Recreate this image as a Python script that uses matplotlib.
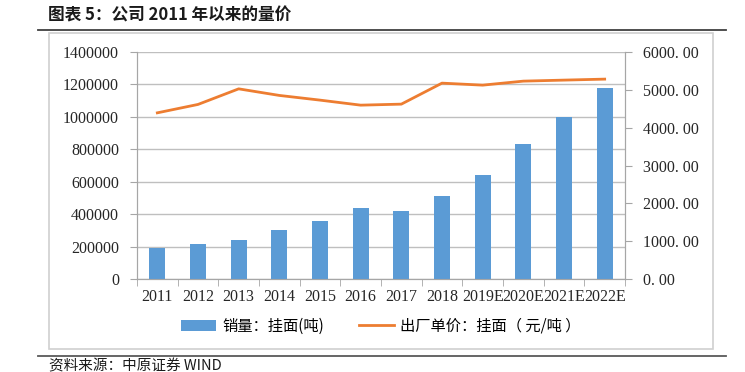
import matplotlib.pyplot as plt
import numpy as np
from matplotlib.patches import Rectangle
from matplotlib.lines import Line2D

plt.rcParams['font.family'] = ['Noto Sans CJK SC', 'DejaVu Sans']

years = ['2011', '2012', '2013', '2014', '2015', '2016', '2017', '2018',
         '2019E', '2020E', '2021E', '2022E']
volume = [191000, 218000, 243000, 304000, 360000, 436000, 419000, 514000,
          639000, 830000, 998000, 1175000]
price = [4392, 4614, 5026, 4852, 4728, 4595, 4622, 5177, 5124, 5230, 5257, 5283]

blue = '#5B9BD5'
orange = '#ED7D31'
grid_c = '#BFBFBF'
axis_c = '#A6A6A6'

fig = plt.figure(figsize=(7.45, 3.72), dpi=100)
W, H = 745, 372

def fx(px):
    return px / W

def fy(py):
    return 1 - py / H

ax = fig.add_axes([fx(137), fy(279), fx(625) - fx(137), fy(52) - fy(279)])
ax2 = ax.twinx()

x = np.arange(len(years))
ax.bar(x, volume, width=0.39, color=blue, zorder=3, label='销量：挂面(吨)')
ax2.plot(x, price, color=orange, lw=2.0, zorder=4, label='出厂单价：挂面（ 元/吨 ）')

ax.set_xlim(-0.5, len(years) - 0.5)
ax.set_ylim(0, 1400000)
ax2.set_ylim(0, 6000)
ax.set_yticks(np.arange(0, 1400001, 200000))
ax2.set_yticks(np.arange(0, 6001, 1000))
ax.set_yticklabels([str(v) for v in range(0, 1400001, 200000)])
ax2.set_yticklabels([('%.2f' % v).replace('.', '. ') for v in range(0, 6001, 1000)])

ax.set_xticks(x)
ax.set_xticklabels(years)
ax.set_xticks(np.arange(-0.5, len(years), 1), minor=True)
ax.tick_params(axis='x', which='major', length=0, pad=7)
ax.tick_params(axis='x', which='minor', length=5, color=axis_c, direction='out')
ax.tick_params(axis='y', length=5, color=axis_c, pad=8)
ax2.tick_params(axis='y', length=5, color=axis_c, pad=8)

for a in (ax, ax2):
    for lab in a.get_xticklabels() + a.get_yticklabels():
        lab.set_fontfamily('Liberation Serif')
        lab.set_fontsize(11.5)
        lab.set_color('#262626')

ax.grid(axis='y', color=grid_c, lw=1.0, zorder=0)
ax.set_axisbelow(True)
for a in (ax, ax2):
    a.spines['top'].set_visible(False)
    a.spines['left'].set_color(axis_c)
    a.spines['right'].set_color(axis_c)
    a.spines['bottom'].set_color(axis_c)

h1, l1 = ax.get_legend_handles_labels()
h2, l2 = ax2.get_legend_handles_labels()
fig.legend(h1 + h2, l1 + l2, loc='center', bbox_to_anchor=(fx(381), fy(326)),
           ncol=2, frameon=False, fontsize=11, handlelength=2.3,
           columnspacing=2.3, handletextpad=0.4)

# outer frame and rules
fig.add_artist(Rectangle((fx(49), fy(349)), fx(713) - fx(49), fy(33) - fy(349),
                         transform=fig.transFigure, fill=False,
                         edgecolor='#D0D0D0', lw=1.2))
fig.add_artist(Line2D([fx(38), fx(726)], [fy(29.5), fy(29.5)],
                      transform=fig.transFigure, color='#404040', lw=1.3))
fig.add_artist(Line2D([fx(38), fx(726)], [fy(356), fy(356)],
                      transform=fig.transFigure, color='#595959', lw=1.3))

fig.text(fx(48), fy(15), '图表 5：公司 2011 年以来的量价', fontsize=12,
         fontweight='bold', va='center', ha='left', color='#1a1a1a')
fig.text(fx(49), fy(366), '资料来源：中原证券 WIND', fontsize=10.5,
         va='center', ha='left', color='#1a1a1a')

fig.savefig('out.png', dpi=100)
